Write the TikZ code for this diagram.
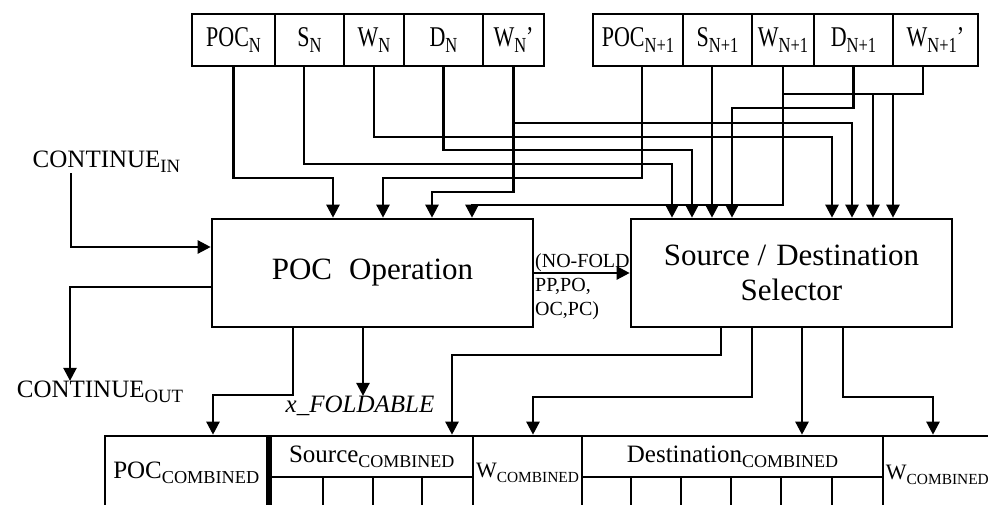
\documentclass[tikz,border=0pt]{standalone}
\usepackage{fontspec}
\setmainfont{Liberation Serif}
\usepackage{graphicx}
\usetikzlibrary{arrows.meta,calc}
\newcommand{\dn}[2][0.75]{\raisebox{-0.45ex}{\scalebox{#1}{#2}}}
\newcommand{\tall}[1]{\scalebox{1}[1.3]{#1}}
\begin{document}
\begin{tikzpicture}[x=1pt,y=-1pt,
  wire/.style={line width=2.4pt},
  arr/.style={wire,-{Triangle[length=13pt,width=13pt]}},
  reg/.style={draw,line width=2.6pt,inner sep=0pt,minimum height=52pt,font=\fontsize{22}{24}\selectfont},
  bigbox/.style={draw,line width=2.6pt,inner sep=0pt,minimum width=321pt,minimum height=108pt,align=center,font=\fontsize{31}{35}\selectfont},
  lbl/.style={inner sep=0pt,font=\fontsize{25}{28}\selectfont},
  cell/.style={draw,line width=2.6pt,inner sep=0pt,font=\fontsize{25}{28}\selectfont},
  wcell/.style={inner sep=0pt,font=\fontsize{22}{24}\selectfont}]
\useasboundingbox (0,0) rectangle (988,504);
\fill[white] (0,0) rectangle (988,504);

% top registers
\node[reg,minimum width=83pt] (pocn) at (233.5,40) {\tall{POC\dn{N}}};
\node[reg,minimum width=69pt] (sn)   at (309.5,40) {\tall{S\dn{N}}};
\node[reg,minimum width=60pt] (wn)   at (374,40)   {\tall{W\dn{N}}};
\node[reg,minimum width=79pt] (dn)   at (443.5,40) {\tall{D\dn{N}}};
\node[reg,minimum width=61pt] (wnp)  at (513.5,40) {\tall{W\dn{N}'}};

\node[reg,minimum width=90pt] (pocn1) at (638,40)   {\tall{POC\dn{N+1}}};
\node[reg,minimum width=69pt] (sn1)   at (717.5,40) {\tall{S\dn{N+1}}};
\node[reg,minimum width=62pt] (wn1)   at (783,40)   {\tall{W\dn{N+1}}};
\node[reg,minimum width=79pt] (dn1)   at (853.5,40) {\tall{D\dn{N+1}}};
\node[reg,minimum width=85pt] (wn1p)  at (935.5,40) {\tall{W\dn{N+1}'}};

% main boxes
\node[bigbox] (pocop) at (372.5,273) {POC\hspace{17pt}Operation};
\node[bigbox] (sel) at (791.5,273) {Source /\hspace{10pt}Destination\\[0pt]Selector};

% wires into POC Operation
\draw[arr] (pocn.south) |- (333,178) -- (pocop.north -| 333,0);
\draw[arr] ([xshift=4pt]pocn1.south) |- (383,178) -- (pocop.north -| 383,0);
\draw[arr] (wnp.south) |- (432,192) -- (pocop.north -| 432,0);
\draw[arr] (wn1.south) |- (472,205) -- (pocop.north -| 472,0);

% wires into selector
\draw[arr] ([xshift=-5.5pt]sn.south) |- (672,164) -- (sel.north -| 672,0);
\draw[arr] (dn.south) |- (692,150) -- (sel.north -| 692,0);
\draw[arr] ([xshift=-5.5pt]sn1.south) -- (sel.north -| 712,0);
\draw[arr] (dn1.south) |- (732,108) -- (sel.north -| 732,0);
\draw[arr] (wn.south) |- (832,137) -- (sel.north -| 832,0);
\coordinate (jw) at (513,123);
\draw[arr] (jw) -| (sel.north -| 852,0);
\draw[wire] ([xshift=-12.5pt]wn1p.south) |- (782,94);
\coordinate (b1) at (873,94);
\coordinate (b2) at (893,94);
\draw[arr] (b1) -- (sel.north -| 873,0);
\draw[arr] (b2) -- (sel.north -| 893,0);

% POC op -> selector
\draw[arr] (pocop.east) -- (sel.west);
\node[anchor=west,align=left,inner sep=0pt,font=\fontsize{20}{24}\selectfont] (nf) at (535,287) {(NO-FOLD\\PP,PO,\\OC,PC)};

% continue
\node[lbl] (cin) at (106.5,162) {CONTINUE\dn{IN}};
\draw[arr] (cin.south -| 71,0) |- (pocop.west |- 0,247);
\node[lbl] (cout) at (100,392) {CONTINUE\dn{OUT}};
\draw[arr] (pocop.west |- 0,287) -| (cout.north -| 70,0);

% bottom register
\node[cell,minimum width=162.5pt,minimum height=74pt] (pocc) at (186.25,473) {POC\dn[0.73]{COMBINED}};
\node[cell,minimum width=202.5pt,minimum height=41pt] (srcu) at (371.75,456.5) {Source\dn[0.72]{COMBINED}};
\node[cell,minimum width=52.5pt,minimum height=33pt] (s1) at (296.75,493.5) {};
\node[cell,minimum width=50pt,minimum height=33pt] (s2) at (348,493.5) {};
\node[cell,minimum width=49pt,minimum height=33pt] (s3) at (397.5,493.5) {};
\node[cell,minimum width=51pt,minimum height=33pt] (s4) at (447.5,493.5) {};
\node[cell,minimum width=109pt,minimum height=74pt,font=\fontsize{22}{24}\selectfont] (wc1) at (527.5,473) {W\dn[0.7]{COMBINED}};
\node[cell,minimum width=301pt,minimum height=41pt] (dstu) at (732.5,456.5) {Destination\dn[0.72]{COMBINED}};
\node[cell,minimum width=49pt,minimum height=33pt] (d1) at (606.5,493.5) {};
\node[cell,minimum width=50pt,minimum height=33pt] (d2) at (656,493.5) {};
\node[cell,minimum width=50pt,minimum height=33pt] (d3) at (706,493.5) {};
\node[cell,minimum width=50pt,minimum height=33pt] (d4) at (756,493.5) {};
\node[cell,minimum width=51pt,minimum height=33pt] (d5) at (806.5,493.5) {};
\node[cell,minimum width=51pt,minimum height=33pt] (d6) at (857.5,493.5) {};
\node[cell,minimum width=140pt,minimum height=74pt] (wc2) at (953,473) {};
\node[wcell,anchor=west] (wc2t) at ([xshift=4pt,yshift=-2pt]wc2.west) {W\dn[0.7]{COMBINED}};

% outputs of POC op
\draw[arr] (pocop.south -| 293,0) |- (213,395) -- (pocc.north -| 213,0);
\node[lbl,font=\fontsize{25}{28}\selectfont\itshape] (xf) at (360,406) {x\_FOLDABLE};
\draw[arr] (pocop.south -| 363,0) -- (xf.north -| 363,0);

% outputs of selector
\draw[arr] (sel.south -| 721,0) |- (452,355) -- (srcu.north -| 452,0);
\draw[arr] (sel.south -| 752,0) |- (533,397) -- (wc1.north -| 533,0);
\draw[arr] (sel.south -| 802,0) -- (dstu.north -| 802,0);
\draw[arr] (sel.south -| 843,0) |- (933,397) -- (wc2.north -| 933,0);
\end{tikzpicture}
\end{document}
